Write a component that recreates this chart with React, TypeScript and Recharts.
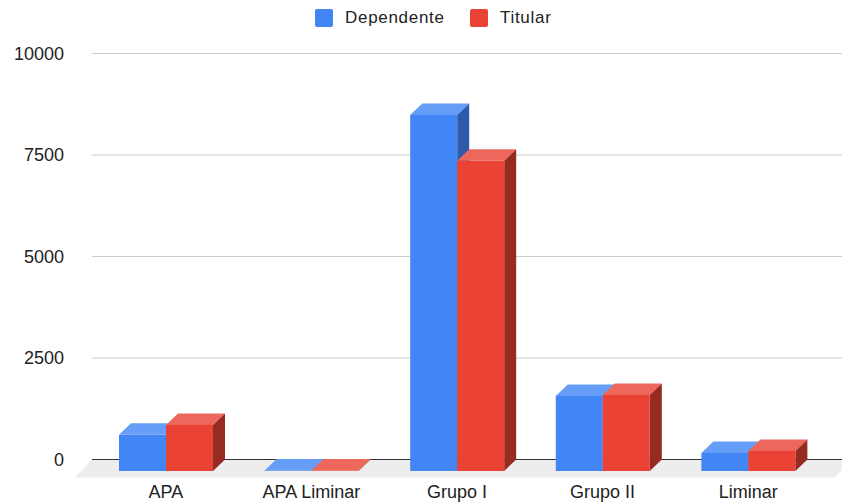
import React from 'react';
import { BarChart, Bar, XAxis, YAxis, CartesianGrid, Legend } from 'recharts';

const categories = ['APA', 'APA Liminar', 'Grupo I', 'Grupo II', 'Liminar'];
const dependente = [890, 10, 8770, 1850, 445];
const titular = [1135, 10, 7640, 1875, 495];
const yTicks = [0, 2500, 5000, 7500, 10000];

const data = categories.map((name, i) => ({ name, Dependente: dependente[i], Titular: titular[i] }));

const FONT = '"Liberation Sans", Arial, sans-serif';
const DEPTH_X = 12;
const DEPTH_Y = 11.5;

const BLUE = { front: '#4285F4', top: '#669DF6', side: '#2D5BAA' };
const RED = { front: '#EA4335', top: '#EE675C', side: '#962B22' };

function Bar3D(props: any) {
    const { x, y, width, height, colors } = props;
    const d = DEPTH_X;
    const e = DEPTH_Y;
    const h = Math.max(height, 0);
    return (
        <g>
            <polygon points={`${x},${y} ${x + d},${y - e} ${x + width + d},${y - e} ${x + width},${y}`} fill={colors.top} />
            <polygon points={`${x + width},${y} ${x + width + d},${y - e} ${x + width + d},${y + h - e} ${x + width},${y + h}`} fill={colors.side} />
            <rect x={x} y={y} width={width} height={h} fill={colors.front} />
        </g>
    );
}

function GridLine(props: any) {
    const { y1 } = props;
    const y = y1 - DEPTH_Y;
    // the bottom line is the zero line, it sits on the floor
    if (y1 > 400) {
        return (
            <g>
                <polygon points={`92,${y} 852,${y} 835,${y + 18} 75,${y + 18}`} fill="#EDEDED" />
                <line x1={92} x2={842} y1={y} y2={y} stroke="#333333" strokeWidth={1} />
            </g>
        );
    }
    return <line x1={92} x2={842} y1={y} y2={y} stroke="#CCCCCC" strokeWidth={1} />;
}

function YTick(props: any) {
    const { y, payload } = props;
    return (
        <text x={64} y={y - DEPTH_Y + 6} textAnchor="end" fontSize={18} fontFamily={FONT} fill="#222222">
            {payload.value}
        </text>
    );
}

function XTick(props: any) {
    const { x, payload } = props;
    return (
        <text x={x} y={498} textAnchor="middle" fontSize={18} fontFamily={FONT} fill="#222222">
            {payload.value}
        </text>
    );
}

function LegendBox() {
    const items = [
        { label: 'Dependente', color: BLUE.front, left: 315 },
        { label: 'Titular', color: RED.front, left: 470 },
    ];
    return (
        <div style={{ position: 'relative', width: 842, height: 30 }}>
            {items.map((item) => (
                <div key={item.label} style={{ position: 'absolute', left: item.left, top: 9, display: 'flex', alignItems: 'center' }}>
                    <span style={{ width: 18, height: 18, borderRadius: 2, background: item.color, display: 'inline-block' }} />
                    <span style={{ marginLeft: 12, fontSize: 17, letterSpacing: 0.7, lineHeight: '18px', fontFamily: FONT, color: '#222222' }}>{item.label}</span>
                </div>
            ))}
        </div>
    );
}

export default function App() {
    return (
        <div style={{ position: 'absolute', left: 0, top: 0, width: 842, height: 502, background: '#fff', overflow: 'hidden' }}>
            <BarChart width={842} height={502} data={data} margin={{ top: 35, right: 21, bottom: 0, left: 0 }} barGap={0} barSize={47}>
                <CartesianGrid vertical={false} horizontal={(p: any) => <GridLine key={p.key} {...p} />} />
                <XAxis dataKey="name" height={31} axisLine={false} tickLine={false} interval={0} tick={<XTick />} />
                <YAxis width={93} domain={[0, 10000]} ticks={yTicks} axisLine={false} tickLine={false} tick={<YTick />} />
                <Legend verticalAlign="top" height={30} content={<LegendBox />} wrapperStyle={{ top: 0, left: 0, width: 842 }} />
                <Bar dataKey="Dependente" isAnimationActive={false} shape={(p: any) => <Bar3D {...p} colors={BLUE} />} />
                <Bar dataKey="Titular" isAnimationActive={false} shape={(p: any) => <Bar3D {...p} colors={RED} />} />
            </BarChart>
        </div>
    );
}
